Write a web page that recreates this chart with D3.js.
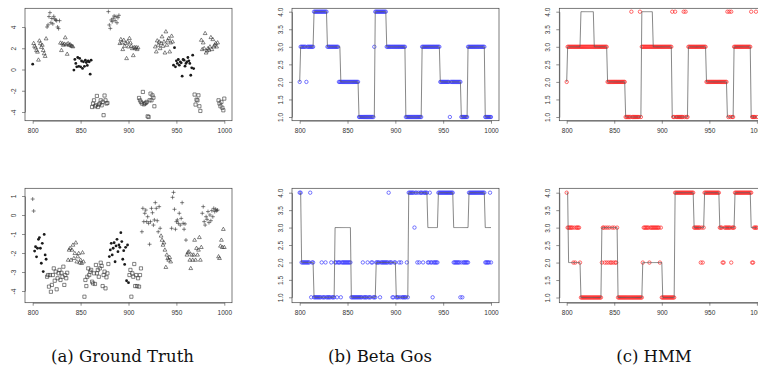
<!DOCTYPE html>
<html>
<head>
<meta charset="utf-8">
<script src="https://cdn.jsdelivr.net/npm/d3@7"></script>
<style>
  body { margin: 0; background: #fff; }
  svg { display: block; }
  .axis text { font-family: "Liberation Sans", Arial, sans-serif; font-size: 6.5px; fill: #333; }
  .axis path, .axis line { stroke: #444; stroke-width: 0.6; }
  .caption { font-family: "DejaVu Serif", "Liberation Serif", serif; font-size: 16.5px; fill: #111; }
</style>
</head>
<body>
<svg id="chart" width="758" height="376"></svg>
<script>
// time steps 800..1000
const steps = d3.range(800, 1001);

// hidden states, one digit per time step (4 = plus, 3 = triangle, 2 = dot, 1 = square)
const truthStatesTop =
  "2333333333 3333344444 4444444443 3333333333 3332222222 2222222222 2211111111 1111111114 4444444444 4333333333 " +
  "3333333333 3111111111 1111111133 3333333333 3333333222 2222222222 2222222221 1111113333 3333333333 3333111111 1";
const betaGosTop =
  "2333333233 3333344444 4444444443 3333333333 3222222222 2222222222 2211111111 1111111134 4444444444 4333333333 " +
  "3333333333 3111111111 1111111133 3333333333 3333333222 2222222122 2222222221 1111113333 3333333333 3333111111 1";
const hmmTop =
  "2333333333 3333333333 3333333333 3333333333 3332222222 2222222222 2211111141 1111111413 3333333333 3333333333 " +
  "3333333333 3411411111 1114141133 3333333333 3333333222 2222222222 2222222224 1414113333 3333333333 3333411114 1";

const truthStatesBottom =
  "4422222222 2222211111 1111111111 1111111333 3333333333 3333111111 1111111111 1111111111 2222222222 2222222222 " +
  "2111111111 1111444444 4444444444 4444333333 3333344444 4444444444 4333333333 3333333444 4444444444 4444333333 3";
const betaGosBottom =
  "4422222222 2412211111 1112111211 1112111221 2221222222 2222111111 1111112111 1211122111 2222122222 2224222112 " +
  "2111212111 1121444444 3442424442 4444224221 2222244444 4444444444 4222222212 1222222444 4444444444 4444222224 2";
const hmmBottom =
  "4333333232 3333211111 1111111111 1111111233 2323232232 3223111111 1111111111 1111111111 2333333233 3333333323 " +
  "1111111111 1111444444 4444444444 4444333333 3232344444 4444444444 4333223333 3332333444 4444444444 4444422333 3";

// observed values (ground truth panels)
const truthValuesTop = [
  0.5,
  2.46, 2.2, 2.05, 1.8, 1.65, 0.9, 2.7, 2.45, 2.1, 2.3, 1.8, 1.5, 1.25, 2.9,
  4.0, 4.2, 4.98, 5.35, 4.4, 4.8, 4.3, 5.0, 4.75, 4.65, 4.6, 4.0, 3.85, 4.6,
  2.5, 1.8, 2.45, 2.3, 2.4, 3.0, 2.35, 1.45, 2.45, 2.3, 2.35, 2.25, 2.2, 2.15,
  -0.05, 0.95, 0.57, 0.25, 1.13, 0.3, 1.04, 0.25, 0.8, 0.1, 0.72, 0.3, 0.88, 0.66, 0.38, 0.8, 0.72, -0.44, 0.88,
  -3.53, -3.2, -2.9, -3.46, -3.37, -2.49, -3.53, -3.3, -3.2, -2.9, -3.37, -3.05, -4.3, -2.45, -2.9, -3.2, -3.15,
  5.45, 4.19, 3.87, 4.66, 4.5, 4.82, 5.04, 4.6, 4.98, 4.4, 4.88, 5.1,
  2.46, 2.83, 2.52, 1.89, 2.77, 2.2, 2.46, 1.04, 2.61, 2.14, 2.93, 2.52, 2.2, 1.98, 1.32, 2.08, 1.98, 2.08, 1.89, 2.05,
  -2.68, -2.9, -3.05, -3.2, -2.11, -3.28, -3.2, -3.15, -3.05, -4.41, -4.47, -2.9, -2.27, -2.9, -2.43, -2.65, -3.46,
  2.14, 1.67, 2.71, 2.3, 2.61, 1.98, 2.46, 3.09, 2.2, 2.61, 1.57, 3.56, 2.3, 2.71, 2.93, 1.67, 2.52, 3.15, 2.61,
  0.41, 2.05, 0.25, 0.82, 0.57, 0.94, 0.41, 0.72, 0.63, -0.63, 0.94, 0.88, 0.31, 0.57, 0.72, 1.13, 0.82, 0.57, -0.54, 0.16, 1.35, 0.09,
  -2.36, -3.3, -2.84, -2.9, -2.43, -3.46, -3.9,
  2.77, 1.89, 2.52, 1.98, 3.4, 1.57, 1.76, 1.98, 1.83, 2.14, 3.02, 1.89, 2.83, 2.14, 2.3, 2.46, 2.14, 2.52,
  -2.9, -3.2, -3.46, -3.05, -3.6, -3.84, -2.74
];
const truthValuesBottom = [
  0.84, 0.21,
  -1.9, -1.67, -2.2, -1.75, -1.28, -1.19, -1.75, -2.54, -1.49, -2.98, -1.02, -2.1, -2.33,
  -3.25, -3.16, -3.77, -3.16, -4.04, -3.68, -3.16, -2.81, -3.46, -2.98, -3.91, -3.33, -3.07, -2.89, -3.42, -3.04, -3.25, -2.72, -3.68, -3.16, -3.33, -3.04,
  -2.37, -1.84, -1.75, -2.37, -1.84, -1.58, -2.28, -2.02, -1.46, -2.46, -2.19, -2.02, -2.51, -2.37, -2.54, -1.98, -2.46,
  -4.3, -3.42, -3.74, -3.25, -2.81, -3.16, -2.98, -2.89, -3.51, -3.6, -3.07, -3.63, -2.63, -3.07, -2.89, -3.25, -2.81, -2.51, -2.68, -3.74, -3.16, -2.98, -3.86, -3.28, -3.07, -2.58,
  -2.19, -1.84, -1.49, -2.1, -1.75, -1.46, -2.46, -1.63, -1.28, -1.93, -1.58, -1.7, -0.93, -1.4, -2.33, -1.88, -2.6, -1.7, -3.46, -1.58, -3.56,
  -3.16, -2.89, -4.3, -3.07, -3.25, -2.58, -3.74, -3.16, -3.74, -3.33, -3.77, -3.16, -2.81,
  -0.88, 0.35, -0.35, 0.09, 0.26, -0.35, -0.09, -0.44, -1.54, -0.35, 0.35, 0.12, -0.53, -0.26, 0.65, 0.35, -0.3, -0.88, 0.44, -0.7,
  -1.1, -1.32, -1.58, -1.46, -1.84, -2.75, -2.1, -2.28, -2.37, -2.23, -2.46,
  -0.7, 0.93, 1.19, 0.3, -0.75, -0.35, -0.26, -0.44, 0.09, -0.53, -0.18, 0.65, -0.44, -0.75, -0.47, -1.32,
  -2.1, -1.98, -1.93, -2.37, -2.81, -2.1, -2.37, -2.1, -1.32, -2.37, -1.75, -2.1, -1.84, -1.18, -2.37, -1.7,
  0.09, 0.44, -0.35, -0.53, -0.09, -0.23, 0.18, -0.4, 0, -0.3, 0.23, -0.09, 0.35, 0.18, 0.3, 0.23, 0.26,
  -2.19, -2.28, -1.63, -1.32, -1.7, -0.75, -1.7
];

const xTicks = [800, 850, 900, 950, 1000];
const yTicksTop = [-4, -2, 0, 2, 4];
const yTicksBottom = [-4, -3, -2, -1, 0, 1];
const stateTicks = [1, 1.5, 2, 2.5, 3, 3.5, 4];
const captions = ["(a) Ground Truth", "(b) Beta Gos", "(c) HMM"];

function parseStates(s, name) {
  const a = s.replace(/\s/g, "").split("").map(Number);
  if (a.length !== steps.length) throw new Error(name + " has " + a.length);
  return a;
}
[["truthValuesTop", truthValuesTop], ["truthValuesBottom", truthValuesBottom]].forEach(([n, a]) => {
  if (a.length !== steps.length) throw new Error(n + " has " + a.length);
});

const svg = d3.select("#chart");

// panel layout: where the R plot regions sit in the figure
const colLeft = { x800: 32.7, x1000: 224.3, boxL: 25, boxR: 232 };
const colMid = { x800: 299.7, x1000: 491, boxL: 292, boxR: 499 };
const colRight = { x800: 566.7, x1000: 756.9, boxL: 559.3, boxR: 764.5 };
const rowTop = { boxT: 8.3, boxB: 120.7 };
const rowBottom = { boxT: 188.3, boxB: 302.7 };

const panels = [
  { col: colLeft, row: rowTop, kind: "gt", yDom: [-4, 4], yRng: [112, 27], yTicks: yTicksTop,
    values: truthValuesTop, states: parseStates(truthStatesTop, "truthStatesTop") },
  { col: colMid, row: rowTop, kind: "est", yDom: [1, 4], yRng: [117, 11.7], yTicks: stateTicks,
    truth: parseStates(truthStatesTop, "truthStatesTop"), est: parseStates(betaGosTop, "betaGosTop"), color: "#3b3bff" },
  { col: colRight, row: rowTop, kind: "est", yDom: [1, 4], yRng: [117, 11.7], yTicks: stateTicks,
    truth: parseStates(truthStatesTop, "truthStatesTop"), est: parseStates(hmmTop, "hmmTop"), color: "#ff2a2a" },
  { col: colLeft, row: rowBottom, kind: "gt", yDom: [-4, 1], yRng: [291, 196], yTicks: yTicksBottom,
    values: truthValuesBottom, states: parseStates(truthStatesBottom, "truthStatesBottom") },
  { col: colMid, row: rowBottom, kind: "est", yDom: [1, 4], yRng: [297.3, 192.7], yTicks: stateTicks,
    truth: parseStates(truthStatesBottom, "truthStatesBottom"), est: parseStates(betaGosBottom, "betaGosBottom"), color: "#3b3bff" },
  { col: colRight, row: rowBottom, kind: "est", yDom: [1, 4], yRng: [297.5, 192.7], yTicks: stateTicks,
    truth: parseStates(truthStatesBottom, "truthStatesBottom"), est: parseStates(hmmBottom, "hmmBottom"), color: "#ff2a2a" }
];

// R-like plotting symbols
const symbolPath = {
  1: "M-1.6,-1.6h3.2v3.2h-3.2z",           // open square
  3: "M0,-2.1L1.9,1.2H-1.9Z",               // open triangle
  4: "M-2,0H2M0,-2V2"                       // plus
};

panels.forEach(p => {
  const x = d3.scaleLinear().domain([800, 1000]).range([p.col.x800, p.col.x1000]);
  const y = d3.scaleLinear().domain(p.yDom).range(p.yRng);
  const g = svg.append("g");

  // box
  g.append("rect")
    .attr("x", p.col.boxL).attr("y", p.row.boxT)
    .attr("width", p.col.boxR - p.col.boxL).attr("height", p.row.boxB - p.row.boxT)
    .attr("fill", "none").attr("stroke", "#444").attr("stroke-width", 0.7);

  // x axis
  g.append("g").attr("class", "axis")
    .attr("transform", `translate(0,${p.row.boxB})`)
    .call(d3.axisBottom(x).tickValues(xTicks).tickFormat(d => String(d)).tickSize(3).tickSizeOuter(0).tickPadding(5));

  // y axis, labels parallel to the axis like R
  const fmt = p.kind === "gt" ? (d => String(d)) : d3.format(".1f");
  const ya = g.append("g").attr("class", "axis")
    .attr("transform", `translate(${p.col.boxL},0)`)
    .call(d3.axisLeft(y).tickValues(p.yTicks).tickFormat(fmt).tickSize(3).tickSizeOuter(0));
  ya.selectAll(".tick text")
    .attr("transform", "rotate(-90)")
    .attr("x", 0).attr("y", -9.5).attr("dy", 0)
    .attr("text-anchor", "middle");

  if (p.kind === "gt") {
    const pts = g.append("g");
    steps.forEach((t, i) => {
      const s = p.states[i];
      const cx = x(t), cy = y(p.values[i]);
      if (s === 2) {
        pts.append("circle").attr("cx", cx).attr("cy", cy).attr("r", 1.4).attr("fill", "#1a1a1a");
      } else {
        pts.append("path").attr("d", symbolPath[s])
          .attr("transform", `translate(${cx},${cy})`)
          .attr("fill", "none").attr("stroke", "#333").attr("stroke-width", 0.6);
      }
    });
  } else {
    g.append("g").selectAll("circle")
      .data(p.est)
      .join("circle")
      .attr("cx", (d, i) => x(steps[i]))
      .attr("cy", d => y(d))
      .attr("r", 1.7)
      .attr("fill", "none")
      .attr("stroke", p.color)
      .attr("stroke-width", 0.7);

    const line = d3.line()
      .x((d, i) => x(steps[i]))
      .y(d => y(d));
    g.append("path")
      .datum(p.truth)
      .attr("d", line)
      .attr("fill", "none")
      .attr("stroke", "#555")
      .attr("stroke-width", 0.7);
  }
});

// sub-captions
const captionX = [122.5, 380, 654];
svg.selectAll(".caption")
  .data(captions)
  .join("text")
  .attr("class", "caption")
  .attr("x", (d, i) => captionX[i])
  .attr("y", 362)
  .attr("text-anchor", "middle")
  .text(d => d);
</script>
</body>
</html>
